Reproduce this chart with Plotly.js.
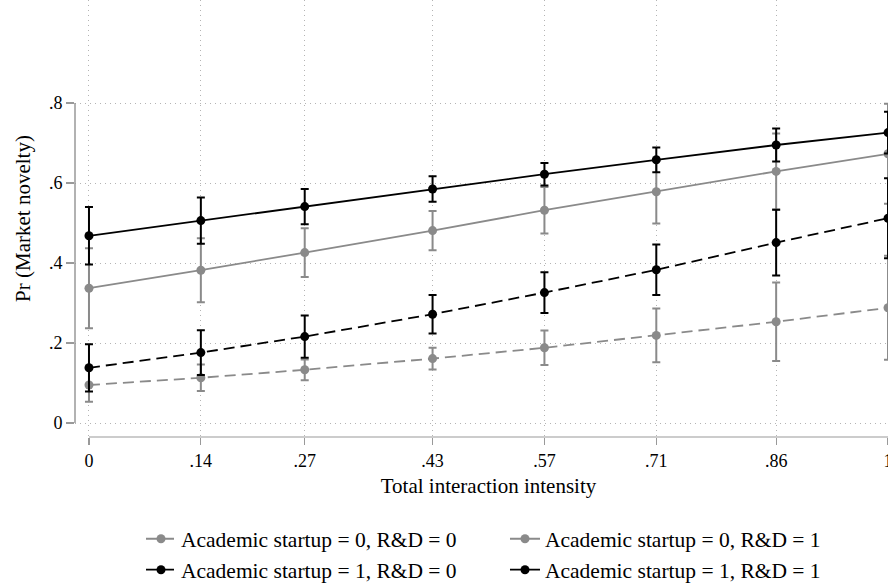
<!DOCTYPE html>
<html>
<head>
<meta charset="utf-8">
<script src="https://cdn.plot.ly/plotly-3.0.1.min.js"></script>
<style>
html, body { margin:0; padding:0; overflow:hidden; background:#fff; }
#chart { width:920px; height:585px; }
</style>
</head>
<body>
<div id="chart"></div>
<script>
// x: total interaction intensity
const xVals = [0, 0.14, 0.27, 0.43, 0.57, 0.71, 0.86, 1];
const xTickText = ["0", ".14", ".27", ".43", ".57", ".71", ".86", "1"];
const yTickVals = [0, 0.2, 0.4, 0.6, 0.8];
const yTickText = ["0", ".2", ".4", ".6", ".8"];

// Academic startup = 0, R&D = 0
const a0r0 = [0.095, 0.113, 0.133, 0.161, 0.188, 0.219, 0.253, 0.288];
const a0r0Err = [0.042, 0.033, 0.026, 0.027, 0.043, 0.067, 0.098, 0.130];
// Academic startup = 0, R&D = 1
const a0r1 = [0.337, 0.382, 0.426, 0.481, 0.532, 0.578, 0.629, 0.673];
const a0r1Err = [0.100, 0.080, 0.061, 0.049, 0.058, 0.079, 0.095, 0.125];
// Academic startup = 1, R&D = 0
const a1r0 = [0.138, 0.176, 0.216, 0.272, 0.326, 0.383, 0.451, 0.512];
const a1r0Err = [0.059, 0.056, 0.053, 0.048, 0.051, 0.063, 0.082, 0.100];
// Academic startup = 1, R&D = 1
const a1r1 = [0.468, 0.506, 0.541, 0.585, 0.622, 0.658, 0.695, 0.726];
const a1r1Err = [0.072, 0.058, 0.044, 0.032, 0.028, 0.031, 0.041, 0.052];

const names = [
  "Academic startup = 0, R&D = 0",
  "Academic startup = 0, R&D = 1",
  "Academic startup = 1, R&D = 0",
  "Academic startup = 1, R&D = 1"
];

const GREY = "#8a8a8a";
const BLACK = "#000000";
const FONT = "Liberation Serif, Times New Roman, serif";

function mk(y, err, name, color, dash) {
  return {
    type: "scatter", mode: "lines+markers",
    x: xVals, y: y, name: name,
    line: {color: color, width: 1.8, dash: dash},
    marker: {color: color, size: 9, symbol: "circle"},
    error_y: {type: "data", array: err, visible: true, color: color, thickness: 2, width: 4}
  };
}

const data = [
  mk(a0r0, a0r0Err, names[0], GREY, "11px,6px"),
  mk(a0r1, a0r1Err, names[1], GREY, "solid"),
  mk(a1r0, a1r0Err, names[2], BLACK, "11px,6px"),
  mk(a1r1, a1r1Err, names[3], BLACK, "solid")
];

const layout = {
  width: 920, height: 585,
  margin: {l: 75, r: 18, t: 0, b: 148, pad: 0, autoexpand: false},
  paper_bgcolor: "#ffffff", plot_bgcolor: "#ffffff",
  font: {family: FONT, size: 18, color: "#000"},
  showlegend: true,
  xaxis: {
    range: [-0.0175, 1.0175],
    tickvals: xVals, ticktext: xTickText,
    showgrid: true, gridcolor: "#b4b4b4", griddash: "1px,4px", gridwidth: 1,
    zeroline: false, showline: false,
    ticks: "outside", ticklen: 7, tickcolor: "#999", tickwidth: 1.2,
    tickfont: {family: FONT, size: 18, color: "#000"},
    title: {text: "Total interaction intensity", font: {family: FONT, size: 21, color: "#000"}, standoff: 8}
  },
  yaxis: {
    range: [-0.035, 1.0575],
    tickvals: yTickVals, ticktext: yTickText,
    showgrid: true, gridcolor: "#b4b4b4", griddash: "1px,4px", gridwidth: 1,
    zeroline: false, showline: false,
    ticks: "outside", ticklen: 8, tickcolor: "#999", tickwidth: 1.2,
    tickfont: {family: FONT, size: 18, color: "#000"},
    title: {text: "Pr (Market novelty)", font: {family: FONT, size: 21, color: "#000"}, standoff: 12}
  },
  shapes: [
    {type: "line", xref: "paper", yref: "y", x0: 0, x1: 0, y0: 0, y1: 0.8, line: {color: "#999", width: 1.5}},
    {type: "line", xref: "x", yref: "paper", x0: 0, x1: 1.0175, y0: 0, y1: 0, line: {color: "#bbb", width: 1.5}}
  ],
  legend: {
    orientation: "h", x: 0.0798, xanchor: "left", y: -0.186, yanchor: "top",
    entrywidth: 319, entrywidthmode: "pixels",
    font: {family: FONT, size: 21.5, color: "#000"},
    bgcolor: "rgba(0,0,0,0)", traceorder: "normal"
  }
};

Plotly.newPlot("chart", data, layout, {displayModeBar: false, staticPlot: true});
</script>
</body>
</html>
